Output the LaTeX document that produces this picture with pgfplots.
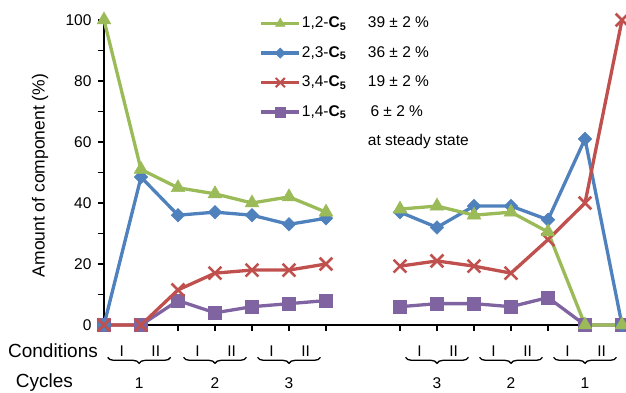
\documentclass[border=0pt]{standalone}
\usepackage{fontspec}
\setmainfont{Liberation Sans}
\usepackage{pgfplots}
\pgfplotsset{compat=1.18}
\usetikzlibrary{decorations.pathreplacing}
\definecolor{cg}{HTML}{9BBB59}
\definecolor{cb}{HTML}{4F81BD}
\definecolor{cr}{HTML}{C0504D}
\definecolor{cp}{HTML}{8064A2}
\pgfplotsset{
  gstyle/.style={color=cg, line width=3.3pt, mark=triangle*, mark size=8pt, mark options={solid, line width=0.5pt}},
  bstyle/.style={color=cb, line width=3.3pt, mark=square*, mark size=4.8pt, mark options={solid, rotate=45, line width=0.5pt}},
  rstyle/.style={color=cr, line width=3.3pt, mark=x, mark size=9pt, mark options={solid, line width=2.6pt}},
  pstyle/.style={color=cp, line width=3.3pt, mark=square*, mark size=6.3pt, mark options={solid, line width=0.5pt}},
}
\begin{document}
\begin{tikzpicture}
\begin{axis}[
  scale only axis, width=518pt, height=305pt,
  xmin=0, xmax=14, ymin=0, ymax=100,
  clip=false,
  axis x line=bottom, axis y line=left,
  axis line style={-, line width=2pt, black},
  xtick={0,1,2,3,4,5,6,8,9,10,11,12,13,14}, xticklabels={},
  ytick={0,20,...,100}, minor ytick={10,30,...,90},
  tick align=outside, major tick length=6pt, minor tick length=6pt,
  tick style={black, line width=1.6pt},
  /pgf/number format/assume math mode=true,
  ticklabel style={font=\fontsize{15.5}{18}\selectfont},
  yticklabel style={xshift=-3pt},
  unbounded coords=jump,
  legend style={at={(axis cs:4.12,102)}, anchor=north west, draw=none, fill=none,
    font=\fontsize{15.5}{18}\selectfont, row sep=14.5pt, column sep=0pt,
    nodes={inner xsep=1pt, inner ysep=0pt, text height=11.5pt, text depth=3.5pt}},
  legend cell align=left,
  legend image code/.code={\draw[mark repeat=2,mark phase=2,#1] plot coordinates {(0pt,0pt) (19pt,0pt) (38pt,0pt)};},
]
\coordinate (bl) at (rel axis cs:0,0);
\coordinate (tr) at (rel axis cs:1,1);
\addlegendimage{gstyle, mark size=5.5pt}
\addlegendentry{\makebox[66pt][l]{1,2-\textbf{C\textsubscript{5}}}39 ± 2 \%}
\addlegendimage{bstyle, mark size=3.6pt}
\addlegendentry{\makebox[66pt][l]{2,3-\textbf{C\textsubscript{5}}}36 ± 2 \%}
\addlegendimage{rstyle, mark size=6.5pt, mark options={solid, line width=2pt}}
\addlegendentry{\makebox[66pt][l]{3,4-\textbf{C\textsubscript{5}}}19 ± 2 \%}
\addlegendimage{pstyle, mark size=4.8pt}
\addlegendentry{\makebox[66pt][l]{1,4-\textbf{C\textsubscript{5}}}\,6 ± 2 \%}
\addlegendimage{empty legend}
\addlegendentry{\makebox[66pt][l]{}at steady state}

\addplot[pstyle, forget plot] coordinates {(0,0)(1,0)(2,8)(3,4)(4,6)(5,7)(6,8)(7,nan)(8,6)(9,7)(10,7)(11,6)(12,9)(13,0)(14,0)};
\addplot[bstyle, forget plot] coordinates {(0,0)(1,48.5)(2,36)(3,37)(4,36)(5,33)(6,35)(7,nan)(8,37)(9,32)(10,39)(11,39)(12,34.5)(13,61)(14,0)};
\addplot[rstyle, forget plot] coordinates {(0,0)(1,0)(2,11.5)(3,17)(4,18)(5,18)(6,20)(7,nan)(8,19.3)(9,21)(10,19.3)(11,17)(12,28)(13,40)(14,100)};
\addplot[gstyle, forget plot] coordinates {(0,100)(1,51)(2,45)(3,43)(4,40)(5,42)(6,37)(7,nan)(8,38)(9,39)(10,36)(11,37)(12,30.5)(13,0)(14,0)};

% bottom annotations
\node[anchor=east, font=\fontsize{19}{22}\selectfont, inner sep=0pt] at (axis cs:-0.16,-8.5) {Conditions};
\node[font=\fontsize{19}{22}\selectfont, inner sep=0pt] at (axis cs:-1.61,-19) {Cycles};
\node[rotate=90, font=\fontsize{17.5}{20}\selectfont, inner sep=0pt] at (axis cs:-1.73,49) {Amount of component (\%)};
\foreach \c/\n in {0.95/1,3/2,5/3,9/3,11/2,13/1}{
  \edef\temp{\noexpand\node[font=\noexpand\fontsize{15.5}{18}\noexpand\selectfont, inner sep=0pt] at (axis cs:\c-0.47,-8.5) {I};
  \noexpand\node[font=\noexpand\fontsize{15.5}{18}\noexpand\selectfont, inner sep=0pt] at (axis cs:\c+0.45,-8.5) {II};
  \noexpand\draw[line width=1.3pt, decorate, decoration={brace, mirror, amplitude=6pt}] (axis cs:\c-0.85,-10.6) -- (axis cs:\c+0.85,-10.6);
  \noexpand\node[font=\noexpand\fontsize{15.5}{18}\noexpand\selectfont, inner sep=0pt] at (axis cs:\c,-19) {\n};}
  \temp
}
\end{axis}
\pgfresetboundingbox
\path[use as bounding box] ([shift={(-104pt,-68pt)}]bl) rectangle ([shift={(4pt,20pt)}]tr);
\end{tikzpicture}
\end{document}
